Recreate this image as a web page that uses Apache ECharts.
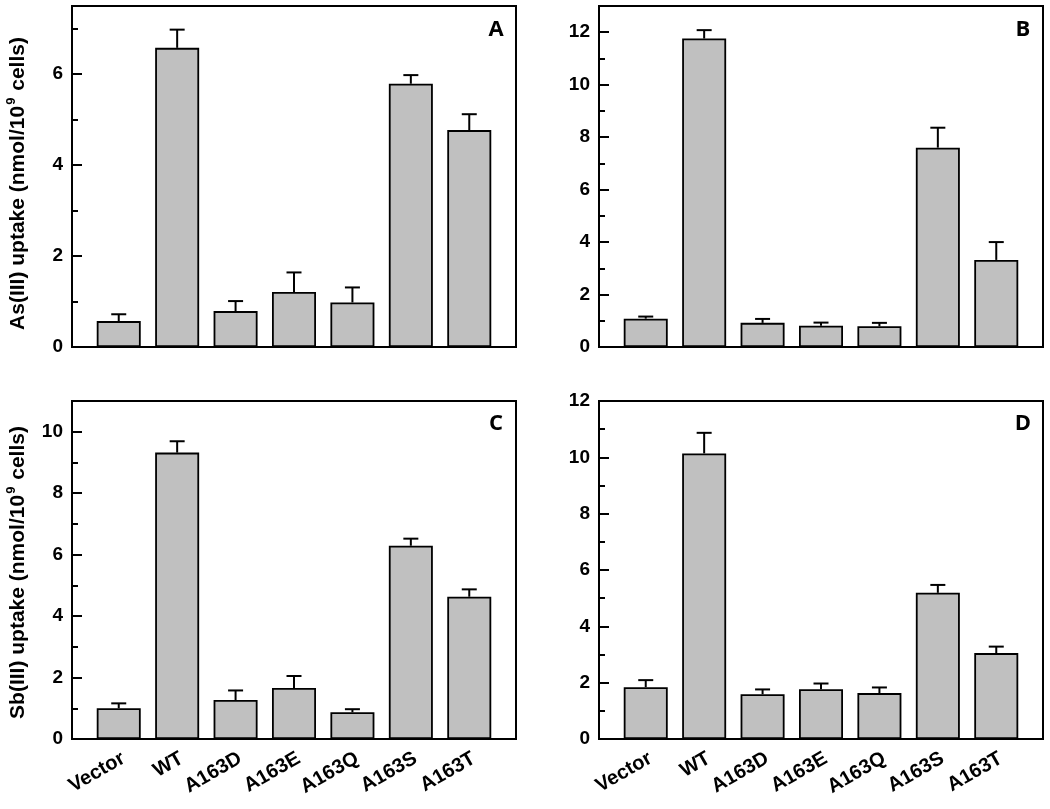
<!DOCTYPE html>
<html>
<head>
<meta charset="utf-8">
<script src="https://cdn.jsdelivr.net/npm/echarts@6/dist/echarts.min.js"></script>
<style>html,body{margin:0;padding:0;background:#fff}#c{width:1050px;height:809px}</style>
</head>
<body>
<div id="c"></div>
<script>
const categories = ['Vector', 'WT', 'A163D', 'A163E', 'A163Q', 'A163S', 'A163T'];

const valuesA = [0.57, 6.58, 0.79, 1.21, 0.98, 5.79, 4.77];
const errorsA = [0.15, 0.40, 0.22, 0.43, 0.33, 0.19, 0.35];
const valuesB = [1.08, 11.76, 0.92, 0.81, 0.79, 7.60, 3.32];
const errorsB = [0.08, 0.32, 0.15, 0.12, 0.13, 0.76, 0.68];
const valuesC = [1.00, 9.32, 1.27, 1.66, 0.87, 6.29, 4.63];
const errorsC = [0.16, 0.37, 0.31, 0.39, 0.10, 0.23, 0.24];
const valuesD = [1.84, 10.14, 1.59, 1.77, 1.63, 5.19, 3.05];
const errorsD = [0.25, 0.73, 0.17, 0.20, 0.20, 0.28, 0.23];

const majorTicksA = [0, 2, 4, 6];
const minorTicksA = [1, 3, 5, 7];
const majorTicksB = [0, 2, 4, 6, 8, 10, 12];
const minorTicksB = [1, 3, 5, 7, 9, 11];
const majorTicksC = [0, 2, 4, 6, 8, 10];
const minorTicksC = [1, 3, 5, 7, 9];
const majorTicksD = [0, 2, 4, 6, 8, 10, 12];
const minorTicksD = [1, 3, 5, 7, 9, 11];

const yMaxA = 7.5, yMaxB = 13, yMaxC = 11, yMaxD = 12;
const panelLetters = ['A', 'B', 'C', 'D'];
const yTitleTop = 'As(III) uptake (nmol/10';
const yTitleBottom = 'Sb(III) uptake (nmol/10';
const yTitleSup = '9';
const yTitleEnd = ' cells)';

const FONT = '"Liberation Sans", Arial, Helvetica, sans-serif';
const panels = [
  {vals: valuesA, errs: errorsA, max: yMaxA, major: majorTicksA, minor: minorTicksA, title: yTitleTop, titleShift: 14, xLabels: false,
   grid: {left: 72, top: 6, width: 444, height: 341}, letter: [496, 30]},
  {vals: valuesB, errs: errorsB, max: yMaxB, major: majorTicksB, minor: minorTicksB, title: null, xLabels: false,
   grid: {left: 599, top: 6, width: 444, height: 341}, letter: [1023, 30]},
  {vals: valuesC, errs: errorsC, max: yMaxC, major: majorTicksC, minor: minorTicksC, title: yTitleBottom, titleShift: 5, xLabels: true,
   grid: {left: 72, top: 401, width: 444, height: 338}, letter: [496, 424]},
  {vals: valuesD, errs: errorsD, max: yMaxD, major: majorTicksD, minor: minorTicksD, title: null, xLabels: true,
   grid: {left: 599, top: 401, width: 444, height: 338}, letter: [1023, 424]}
];

const catPositions = categories.map((c, i) => i + 1);
const labelPositions = catPositions.map(p => p + 0.08);

const grids = [], xAxes = [], yAxes = [], series = [], graphics = [];
panels.forEach((p, k) => {
  grids.push(Object.assign({show: true, borderColor: '#000', borderWidth: 2, backgroundColor: 'transparent'}, p.grid));
  xAxes.push({
    type: 'value', gridIndex: k, min: 0.2, max: 7.8,
    splitLine: {show: false},
    axisLine: {show: true, onZero: false, lineStyle: {color: '#000', width: 2}},
    axisTick: {show: false},
    axisLabel: {
      show: p.xLabels, customValues: labelPositions, rotate: 30, margin: 18,
      color: '#000', fontWeight: 'bold', fontSize: 20, fontFamily: FONT,
      formatter: v => categories[Math.round(v) - 1] || ''
    }
  });
  const yMain = {
    type: 'value', gridIndex: k, min: 0, max: p.max, position: 'left',
    splitLine: {show: false},
    axisLine: {show: true, lineStyle: {color: '#000', width: 2}},
    axisTick: {show: true, inside: true, length: 10, customValues: p.major, lineStyle: {color: '#000', width: 2}},
    axisLabel: {customValues: p.major, margin: 9, color: '#000', fontWeight: 'bold', fontSize: 19, fontFamily: FONT},
  };
  if (p.title) {
    yMain.name = '{t|' + p.title + '}{s|' + yTitleSup + '}{t|' + yTitleEnd + '}';
    yMain.nameLocation = 'middle';
    yMain.nameGap = 41;
    yMain.nameTextStyle = {
      padding: [0, p.titleShift, 0, 0],
      rich: {
        t: {fontSize: 21, fontWeight: 'bold', fontFamily: FONT, color: '#000', lineHeight: 26},
        s: {fontSize: 13, fontWeight: 'bold', fontFamily: FONT, color: '#000', verticalAlign: 'top', lineHeight: 26, padding: [0, 1, 10, 1]}
      }
    };
  }
  const yMainIndex = yAxes.length;
  yAxes.push(yMain);
  yAxes.push({
    type: 'value', gridIndex: k, min: 0, max: p.max, position: 'left',
    splitLine: {show: false},
    axisLine: {show: false},
    axisTick: {show: true, inside: true, length: 6, customValues: p.minor, lineStyle: {color: '#000', width: 2}},
    axisLabel: {show: false}
  });
  series.push({
    type: 'bar', xAxisIndex: k, yAxisIndex: yMainIndex, barWidth: 44,
    itemStyle: {color: '#c0c0c0', borderColor: '#000', borderWidth: 1.8},
    data: p.vals.map((v, i) => [catPositions[i], v]),
    silent: true, animation: false
  });
  series.push({
    type: 'custom', xAxisIndex: k, yAxisIndex: yMainIndex, z: 3, animation: false, silent: true,
    data: p.vals.map((v, i) => [catPositions[i], v, p.errs[i]]),
    renderItem: (params, api) => {
      const x = api.value(0), v = api.value(1), e = api.value(2);
      const a = api.coord([x, v]);
      const b = api.coord([x, v + e]);
      const st = {stroke: '#000', lineWidth: 2};
      return {type: 'group', children: [
        {type: 'line', shape: {x1: a[0], y1: a[1], x2: b[0], y2: b[1]}, style: st},
        {type: 'line', shape: {x1: b[0] - 7.5, y1: b[1], x2: b[0] + 7.5, y2: b[1]}, style: st}
      ]};
    }
  });
  graphics.push({
    type: 'text', x: p.letter[0], y: p.letter[1],
    style: {text: panelLetters[k], fontSize: 22, fontWeight: 'bold', fontFamily: '"Open Sans", sans-serif', fill: '#000',
            align: 'center', verticalAlign: 'middle', textAlign: 'center', textVerticalAlign: 'middle'}
  });
});

const chart = echarts.init(document.getElementById('c'), null, {renderer: 'canvas'});
chart.setOption({
  animation: false,
  backgroundColor: '#fff',
  grid: grids, xAxis: xAxes, yAxis: yAxes, series: series, graphic: graphics
});
</script>
</body>
</html>
